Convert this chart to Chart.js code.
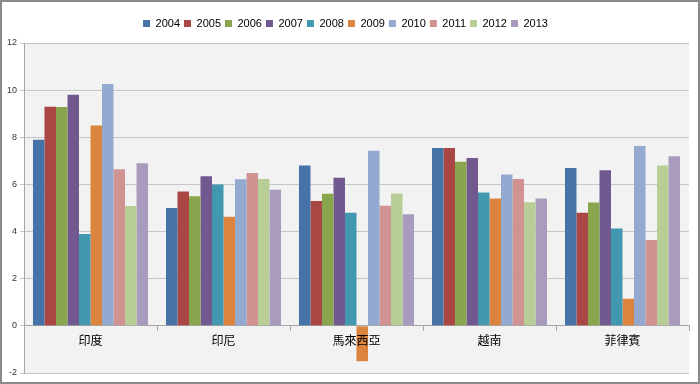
<!DOCTYPE html>
<html>
<head>
<meta charset="utf-8">
<script src="https://cdn.jsdelivr.net/npm/chart.js@4"></script>
<style>
  html, body { margin: 0; padding: 0; background: #fff; }
  #wrap {
    width: 700px; height: 384px; box-sizing: border-box;
    border: 2px solid #8a8a8a; position: relative;
  }
  #wrap canvas { display: block; }
</style>
</head>
<body>
<div id="wrap"><canvas id="grafico" width="696" height="380"></canvas></div>
<script>
// categorias (países) e anos
const paises = ['印度', '印尼', '馬來西亞', '越南', '菲律賓'];
const anos = ['2004', '2005', '2006', '2007', '2008', '2009', '2010', '2011', '2012', '2013'];

// valores por ano, na ordem dos países
const v2004 = [7.9, 5.0, 6.8, 7.55, 6.7];
const v2005 = [9.3, 5.7, 5.3, 7.55, 4.8];
const v2006 = [9.28, 5.5, 5.6, 6.96, 5.23];
const v2007 = [9.8, 6.35, 6.28, 7.12, 6.6];
const v2008 = [3.9, 6.0, 4.8, 5.66, 4.13];
const v2009 = [8.5, 4.63, -1.5, 5.4, 1.15];
const v2010 = [10.26, 6.22, 7.43, 6.42, 7.63];
const v2011 = [6.64, 6.48, 5.1, 6.23, 3.64];
const v2012 = [5.08, 6.23, 5.62, 5.24, 6.8];
const v2013 = [6.9, 5.77, 4.73, 5.4, 7.2];

const valores = [v2004, v2005, v2006, v2007, v2008, v2009, v2010, v2011, v2012, v2013];

// eixo y
const yMin = -2;
const yMax = 12;
const yPasso = 2;

const cores = [
    '#4572A7', '#AA4643', '#89A54E', '#71588F', '#4198AF',
    '#DB843D', '#93A9CF', '#D19392', '#B9CD96', '#A99BBD'
];

// fundo cinza da área do gráfico
const fundoArea = {
    id: 'fundoArea',
    beforeDraw(chart) {
        const { ctx, chartArea } = chart;
        ctx.save();
        ctx.fillStyle = '#f2f2f2';
        ctx.fillRect(chartArea.left, chartArea.top, chartArea.right - chartArea.left, chartArea.bottom - chartArea.top);
        ctx.restore();
    }
};

// um pouco mais de espaço entre a legenda e o gráfico
const espacoLegenda = {
    id: 'espacoLegenda',
    beforeInit(chart) {
        const legenda = chart.legend;
        if (!legenda) return;
        const fitOriginal = legenda.fit;
        legenda.fit = function() {
            fitOriginal.call(this);
            this.height += 4;
        };
    }
};

const ctx = document.getElementById('grafico').getContext('2d');
new Chart(ctx, {
    type: 'bar',
    data: {
        labels: paises,
        datasets: anos.map((ano, i) => ({
            label: ano,
            data: valores[i],
            backgroundColor: cores[i],
            borderWidth: 0,
            barPercentage: 1,
            categoryPercentage: 0.865
        }))
    },
    options: {
        responsive: false,
        animation: false,
        layout: {
            padding: { top: 12, right: 9, bottom: 9, left: 0 }
        },
        scales: {
            x: {
                position: { y: 0 },
                grid: {
                    offset: true,
                    drawOnChartArea: false,
                    drawTicks: true,
                    tickLength: 5,
                    color: '#a6a6a6'
                },
                border: { display: true, color: '#a6a6a6' },
                ticks: {
                    z: 1, // rótulos por cima das barras (ex.: 2009 negativo)
                    padding: 2,
                    color: '#000',
                    font: { size: 12, family: "'Noto Sans CJK TC', sans-serif" }
                }
            },
            y: {
                min: yMin,
                max: yMax,
                afterFit(scale) { scale.width = 22; },
                grid: {
                    color: '#c6c6c6',
                    tickLength: 4
                },
                border: { display: true, color: '#a6a6a6' },
                ticks: {
                    stepSize: yPasso,
                    padding: 3,
                    color: '#333',
                    font: { size: 9, family: "'Liberation Sans', sans-serif" }
                }
            }
        },
        plugins: {
            legend: {
                position: 'top',
                labels: {
                    boxWidth: 7,
                    boxHeight: 7,
                    padding: 4,
                    color: '#000',
                    font: { size: 11, family: "'Liberation Sans', sans-serif" }
                }
            },
            tooltip: { enabled: false }
        }
    },
    plugins: [fundoArea, espacoLegenda]
});
</script>
</body>
</html>
